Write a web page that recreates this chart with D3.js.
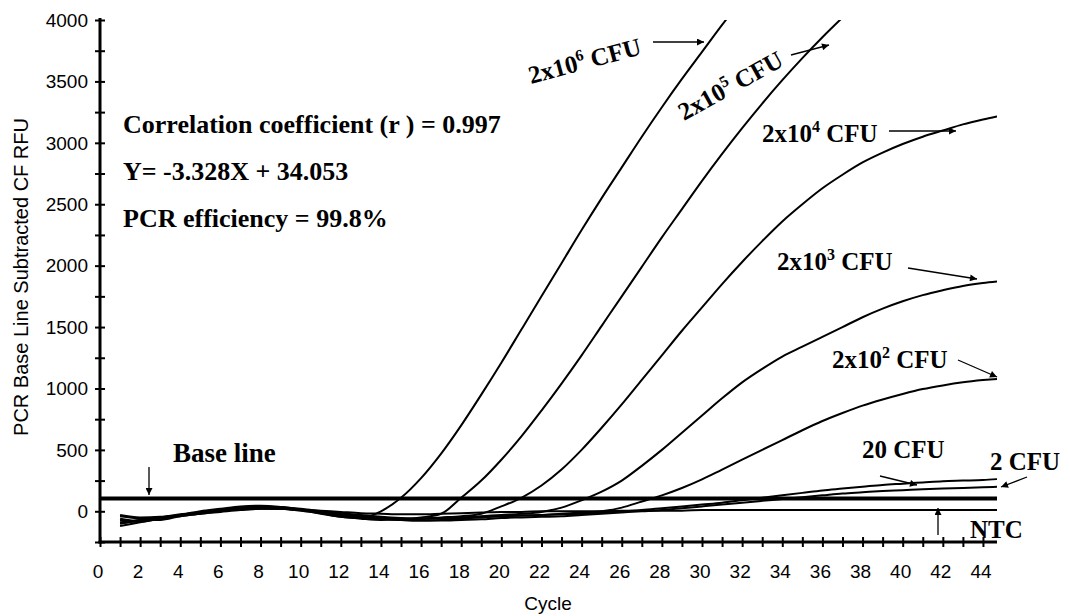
<!DOCTYPE html>
<html>
<head>
<meta charset="utf-8">
<script src="https://cdn.jsdelivr.net/npm/d3@7"></script>
<style>
	body { margin: 0; background: #fff; }
	.tick-lbl { font-family: "Liberation Sans", Arial, sans-serif; font-size: 19px; fill: #000; }
	.note { font-family: "Liberation Serif", "Times New Roman", serif; font-weight: bold; fill: #000; }
</style>
</head>
<body>
<div id="chart"></div>
<script>
// cycles 1..44 then last read at 44.7
var cycles = [1,2,3,4,5,6,7,8,9,10,11,12,13,14,15,16,17,18,19,20,21,22,23,24,25,26,27,28,29,30,31,32,33,34,35,36,37,38,39,40,41,42,43,44,44.7];

// RFU per cycle
var cfu2e6 = [-70,-85,-60,-30,0,20,40,45,35,15,-15,-45,-55,0,110,270,470,700,950,1210,1480,1750,2020,2290,2550,2800,3050,3290,3520,3740,3960,4170];
var cfu2e5 = [-100,-75,-50,-35,-10,10,30,35,30,10,-20,-45,-60,-70,-65,-50,-20,110,250,420,610,820,1040,1270,1510,1750,1990,2230,2460,2690,2910,3120,3320,3510,3690,3860,4020];
var cfu2e4 = [-40,-60,-70,-40,-20,0,20,30,25,10,-10,-30,-50,-60,-65,-60,-50,-40,-20,40,110,210,340,500,680,870,1070,1270,1470,1660,1850,2030,2200,2360,2500,2630,2740,2840,2920,2990,3050,3100,3150,3190,3215];
var cfu2e3 = [-120,-90,-60,-40,-20,-5,10,20,20,10,0,-15,-30,-45,-55,-60,-55,-50,-40,-30,-20,-5,30,90,160,250,370,500,640,780,920,1050,1160,1260,1340,1420,1500,1580,1650,1710,1760,1800,1835,1858,1870];
var cfu2e2 = [-90,-70,-55,-30,-10,10,30,40,35,20,0,-20,-40,-60,-70,-75,-70,-60,-50,-40,-35,-30,-20,-10,0,30,80,130,190,260,340,420,500,580,660,735,800,860,910,955,995,1025,1050,1068,1078];
var cfu20 = [-60,-80,-60,-30,-10,10,25,30,25,10,-10,-30,-45,-55,-60,-60,-55,-50,-45,-40,-35,-30,-25,-20,-10,0,10,25,40,55,70,90,110,130,150,170,185,200,215,225,235,245,250,255,262];
var cfu2 = [-100,-70,-50,-30,-15,5,20,25,20,5,-15,-35,-50,-60,-70,-75,-75,-70,-65,-55,-50,-45,-40,-30,-20,-10,0,10,25,40,55,70,85,100,115,130,145,155,165,172,180,185,190,195,200];
var ntc = [-30,-50,-45,-25,-10,5,15,20,20,15,5,-5,-15,-20,-25,-25,-20,-15,-10,-5,-5,0,0,0,0,5,5,5,5,10,10,10,10,10,10,10,10,10,10,10,10,10,10,10,10];
var baseLine = 105;

var yTicks = [0,500,1000,1500,2000,2500,3000,3500,4000];
var yMinor = [-250,250,750,1250,1750,2250,2750,3250,3750];
var xTicks = [0,2,4,6,8,10,12,14,16,18,20,22,24,26,28,30,32,34,36,38,40,42,44];

var W = 1070, H = 616;
var svg = d3.select("#chart").append("svg").attr("width", W).attr("height", H);

var x = d3.scaleLinear().domain([0, 44.7]).range([100, 997]);
var y = d3.scaleLinear().domain([-250, 4000]).range([542, 20]);

// arrow head
svg.append("defs").append("marker")
	.attr("id", "ah").attr("viewBox", "0 0 10 10")
	.attr("refX", 10).attr("refY", 5)
	.attr("markerWidth", 11).attr("markerHeight", 7)
	.attr("markerUnits", "userSpaceOnUse")
	.attr("orient", "auto")
	.append("path").attr("d", "M0,0L10,5L0,10z").attr("fill", "#000");

svg.select("defs").append("clipPath").attr("id", "plot")
	.append("rect").attr("x", 100).attr("y", y(4000)).attr("width", 897).attr("height", y(-250) - y(4000));

//==========================
// CURVES
//==========================
var line = d3.line()
	.defined(function(d) { return d[1] != null; })
	.x(function(d) { return x(d[0]); })
	.y(function(d) { return y(d[1]); })
	.curve(d3.curveMonotoneX);

var curves = [ntc, cfu2, cfu20, cfu2e2, cfu2e3, cfu2e4, cfu2e5, cfu2e6];
var g = svg.append("g").attr("clip-path", "url(#plot)");
curves.forEach(function(vals) {
	var pts = vals.map(function(v, i) { return [cycles[i], v]; });
	g.append("path").datum(pts)
		.attr("fill", "none").attr("stroke", "#000").attr("stroke-width", 2)
		.attr("d", line);
});

// threshold
g.append("line")
	.attr("x1", x(0)).attr("x2", x(44.7))
	.attr("y1", y(baseLine)).attr("y2", y(baseLine))
	.attr("stroke", "#000").attr("stroke-width", 4);

//==========================
// AXES
//==========================
var yAxis = d3.axisLeft(y).tickValues(yTicks.concat(yMinor)).tickSize(5).tickFormat("");
var gy = svg.append("g").attr("transform", "translate(100,0)").call(yAxis);
gy.selectAll(".tick line").attr("x2", -5).attr("x1", 5).attr("stroke-width", 2);
gy.select(".domain").remove();

var xAxis = d3.axisBottom(x).tickValues(d3.range(0, 45)).tickFormat("");
var gx = svg.append("g").attr("transform", "translate(0,542)").call(xAxis);
gx.selectAll(".tick line").attr("y1", -5).attr("y2", 5).attr("stroke-width", 2);
gx.select(".domain").remove();

svg.append("line").attr("x1", 100).attr("x2", 100).attr("y1", 18).attr("y2", 543.5)
	.attr("stroke", "#000").attr("stroke-width", 3);
svg.append("line").attr("x1", 98.5).attr("x2", 997).attr("y1", 542).attr("y2", 542)
	.attr("stroke", "#000").attr("stroke-width", 3);

svg.selectAll(".ylbl").data(yTicks).enter().append("text")
	.attr("class", "tick-lbl").attr("x", 88).attr("y", function(d) { return y(d); })
	.attr("dy", "0.36em").attr("text-anchor", "end")
	.text(function(d) { return d; });

svg.selectAll(".xlbl").data(xTicks).enter().append("text")
	.attr("class", "tick-lbl").attr("x", function(d) { return x(d) - 2; }).attr("y", 578)
	.attr("text-anchor", "middle")
	.text(function(d) { return d; });

svg.append("text").attr("class", "tick-lbl")
	.attr("x", 548).attr("y", 610).attr("text-anchor", "middle").text("Cycle");

svg.append("text").attr("class", "tick-lbl").style("font-size", "20px")
	.attr("transform", "translate(28,277) rotate(-90)")
	.attr("text-anchor", "middle").text("PCR Base Line Subtracted CF RFU");

//==========================
// NOTES
//==========================
var stats = ["Correlation coefficient (r ) = 0.997", "Y= -3.328X + 34.053", "PCR efficiency = 99.8%"];
svg.selectAll(".stat").data(stats).enter().append("text")
	.attr("class", "note").style("font-size", "26px")
	.attr("x", 123).attr("y", function(d, i) { return 133 + i * 47; })
	.text(function(d) { return d; });

function label(txt, sup, px, py, rot, size) {
	var t = svg.append("text").attr("class", "note").style("font-size", (size || 25) + "px")
		.attr("transform", "translate(" + px + "," + py + ") rotate(" + (rot || 0) + ")");
	t.append("tspan").text(txt);
	if (sup) {
		t.append("tspan").attr("dy", -10).style("font-size", "16px").text(sup);
		t.append("tspan").attr("dy", 10).text(" CFU");
	}
}
function arrow(x1, y1, x2, y2) {
	svg.append("line").attr("x1", x1).attr("y1", y1).attr("x2", x2).attr("y2", y2)
		.attr("stroke", "#000").attr("stroke-width", 1.3).attr("marker-end", "url(#ah)");
}

label("2x10", "6", 531, 84, -15);
arrow(653, 42, 704, 42);
label("2x10", "5", 684, 121, -29);
arrow(791, 55, 829, 45);
label("2x10", "4", 762, 142);
arrow(889, 131, 956, 131);
label("2x10", "3", 777, 270);
arrow(908, 268, 977, 279);
label("2x10", "2", 832, 368);
arrow(958, 360, 997, 377);
label("20 CFU", null, 862, 458);
arrow(880, 476, 917, 485);
label("2 CFU", null, 990, 470);
arrow(1027, 477, 1001, 487);
label("NTC", null, 970, 538);
arrow(938, 535, 938, 508);
label("Base line", null, 173, 462, 0, 27);
arrow(149, 467, 149, 495);
</script>
</body>
</html>
